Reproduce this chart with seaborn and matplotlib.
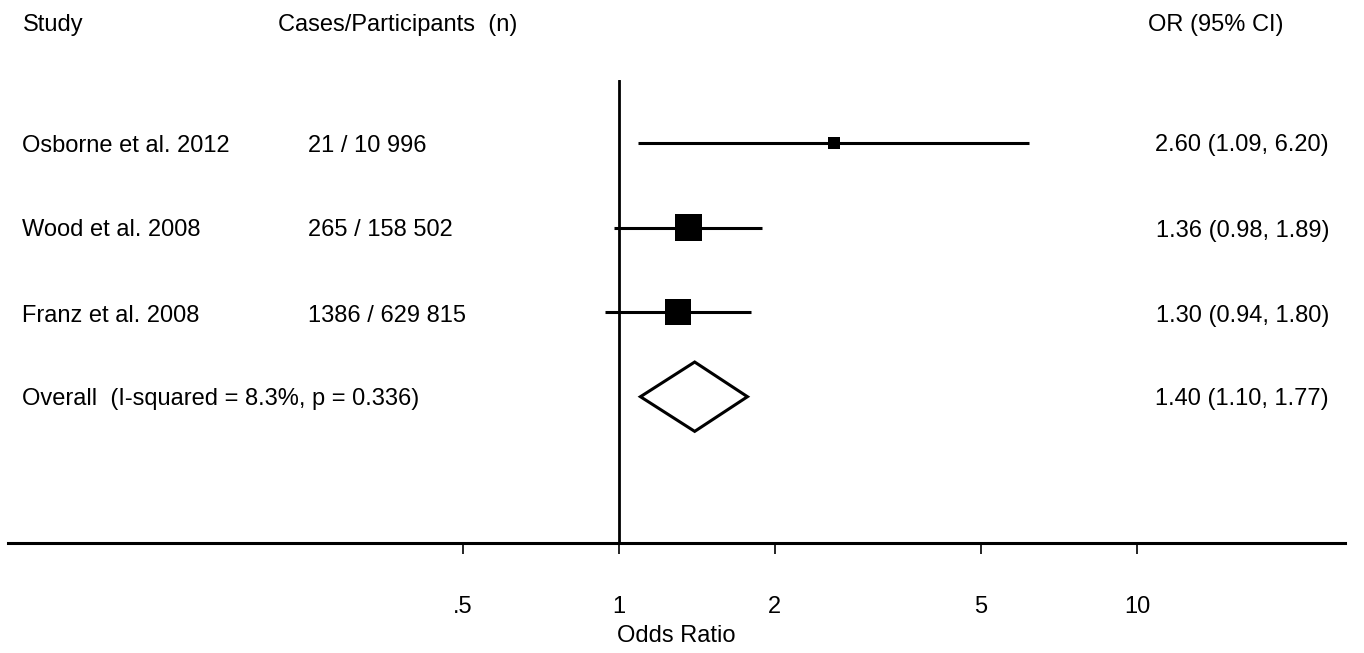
import matplotlib
matplotlib.use("Agg")
import matplotlib.pyplot as plt
import seaborn as sns
import pandas as pd
import numpy as np

studies = ["Osborne et al. 2012", "Wood et al. 2008", "Franz et al. 2008"]
cases = ["21 / 10 996", "265 / 158 502", "1386 / 629 815"]
or_est = [2.60, 1.36, 1.30]
ci_low = [1.09, 0.98, 0.94]
ci_high = [6.20, 1.89, 1.80]
weights = [12, 44, 44]
overall_label = "Overall  (I-squared = 8.3%, p = 0.336)"
overall = [1.40, 1.10, 1.77]
tick_vals = [0.5, 1, 2, 5, 10]
tick_labels = [".5", "1", "2", "5", "10"]

sns.set_theme(style="white")
plt.rcParams['font.family'] = ['Liberation Sans', 'DejaVu Sans']
plt.rcParams['text.color'] = 'black'
FS = 17

W, H = 1364, 653
fig = plt.figure(figsize=(W / 100, H / 100), dpi=100)
ax = fig.add_axes([8 / W, (H - 543) / H, (1345 - 8) / W, (543 - 80) / H])

df = pd.DataFrame({"study": studies, "OR": or_est, "lo": ci_low, "hi": ci_high,
                   "w": weights, "row": np.arange(len(studies))})

ax.hlines(df["row"], df["lo"], df["hi"], color="black", lw=2.2, zorder=2)
sns.scatterplot(data=df, x="OR", y="row", size="w", sizes=(85, 370), marker="s",
                color="black", linewidth=0, legend=False, ax=ax, zorder=3)

orow = len(studies)
dh = 0.41
ax.fill([overall[1], overall[0], overall[2], overall[0], overall[1]],
        [orow, orow - dh, orow, orow + dh, orow], facecolor="white",
        edgecolor="black", lw=2.2, zorder=3)

ax.axvline(1, color="black", lw=2, zorder=1)

ax.set_xscale("log")
ax.set_xlim(10 ** ((8 - 619) / 518), 10 ** ((1345 - 619) / 518))
ax.set_ylim(4.73, -0.745)
ax.set_yticks([])
ax.set_ylabel("")
ax.set_xticks(tick_vals)
ax.set_xticklabels(tick_labels, fontsize=FS, color="black")
ax.xaxis.set_minor_locator(matplotlib.ticker.NullLocator())
ax.tick_params(axis="x", direction="out", length=8, width=1.2, pad=30, bottom=True, colors="black")
for s in ["top", "left", "right"]:
    ax.spines[s].set_visible(False)
ax.spines["bottom"].set_linewidth(2.2)
ax.spines["bottom"].set_color("black")
ax.set_xlabel("Odds Ratio", fontsize=FS, labelpad=5, color="black")

def fx(px):
    return px / W

def fy(py):
    return 1 - py / H

HB = 31
fig.text(fx(23), fy(HB), "Study", fontsize=FS, va="baseline", ha="left")
fig.text(fx(278), fy(HB), "Cases/Participants  (n)", fontsize=FS, va="baseline", ha="left")
fig.text(fx(1283), fy(HB), "OR (95% CI)", fontsize=FS, va="baseline", ha="right")

row_px = [143, 228, 313]
off = 8.5
for i, y in enumerate(row_px):
    fig.text(fx(22), fy(y + off), studies[i], fontsize=FS, va="baseline", ha="left")
    fig.text(fx(308), fy(y + off), cases[i], fontsize=FS, va="baseline", ha="left")
    fig.text(fx(1329), fy(y + off), f"{or_est[i]:.2f} ({ci_low[i]:.2f}, {ci_high[i]:.2f})",
             fontsize=FS, va="baseline", ha="right")
fig.text(fx(22), fy(397 + off), overall_label, fontsize=FS, va="baseline", ha="left")
fig.text(fx(1329), fy(397 + off), f"{overall[0]:.2f} ({overall[1]:.2f}, {overall[2]:.2f})",
         fontsize=FS, va="baseline", ha="right")

fig.savefig("out.png", dpi=100, facecolor="white")
